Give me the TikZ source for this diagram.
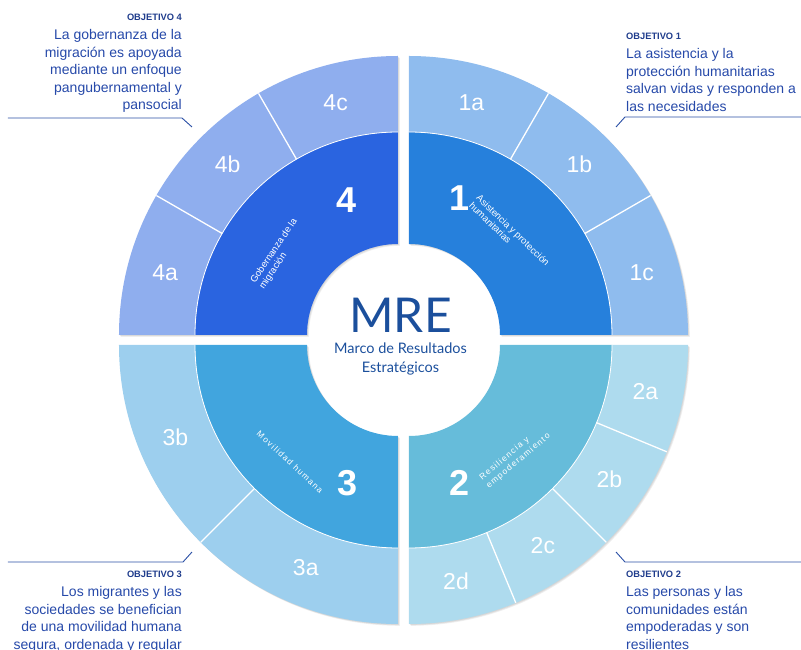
\documentclass[tikz,border=0pt]{standalone}
\usepackage{fontspec}
\setmainfont{Liberation Sans}
\newfontfamily\mrefont{Lato}
\usetikzlibrary{positioning,calc}
\definecolor{MidOne}{HTML}{2680DC}
\definecolor{OutOne}{HTML}{8FBCEE}
\definecolor{MidTwo}{HTML}{66BCDA}
\definecolor{OutTwo}{HTML}{AEDBEE}
\definecolor{MidThree}{HTML}{41A5DE}
\definecolor{OutThree}{HTML}{9DCFEE}
\definecolor{MidFour}{HTML}{2A64E0}
\definecolor{OutFour}{HTML}{8FAEEE}
\definecolor{ObjHead}{HTML}{1F3C8C}
\definecolor{ObjText}{HTML}{2649A9}
\definecolor{Callout}{HTML}{2A4FA5}
\definecolor{Mre}{HTML}{1B4F9C}

\newcommand{\rHole}{91pt}
\newcommand{\rMid}{203pt}
\newcommand{\rOut}{279pt}
\newcommand{\rLab}{241pt}
\newcommand{\ringpart}[5]{%
  \fill[#5] (#1:#3) arc[start angle=#1, end angle=#2, radius=#3]
    -- (#2:#4) arc[start angle=#2, end angle=#1, radius=#4] -- cycle;}

\begin{document}
\begin{tikzpicture}[
    x=1pt, y=1pt,
    seglabel/.style={text=white, font={\fontsize{23}{23}\selectfont}},
    bignum/.style={text=white, font={\fontsize{36}{36}\selectfont\bfseries}},
    ringtext/.style={text=white, align=left, inner sep=0pt, font={\fontsize{9.5}{10.5}\selectfont}},
    spaced/.style={ringtext, font={\fontsize{8.5}{10.5}\selectfont\addfontfeature{LetterSpace=15}}},
    objhead/.style={text=ObjHead, inner sep=0pt, font={\fontsize{9.3}{11}\selectfont\bfseries}},
    objtext/.style={text=ObjText, inner sep=0pt, font={\fontsize{14}{17.5}\selectfont}},
    callout/.style={draw=Callout, line width=0.9pt},
    divider/.style={draw=white, line width=1.3pt},
    sep/.style={draw=white, line width=0.8pt},
    shade/.style={fill=black, opacity=0.06}
  ]
  \useasboundingbox (-403.5,-310) rectangle (397.5,340);

  % soft shadow under the four quarters
  \foreach \qx/\qy/\qa in {5.5/5/0, -5.5/5/90, -5.5/-5/180, 5.5/-5/270} {
    \foreach \d in {1,2,3} {
      \begin{scope}[shift={(\qx+0.6*\d,\qy-0.6*\d)}]
        \ringpart{\qa}{\qa+90}{\rHole}{\rOut}{shade}
      \end{scope}
    }
  }

  % objetivo 1
  \begin{scope}[shift={(5.5,5)}]
    \ringpart{0}{90}{\rHole}{\rMid}{MidOne}
    \ringpart{0}{90}{\rMid}{\rOut}{OutOne}
    \draw[sep] (0:\rMid) arc[start angle=0, end angle=90, radius=\rMid];
    \draw[divider] (30:\rMid) -- (30:\rOut) (60:\rMid) -- (60:\rOut);
    \foreach \ang/\lab in {75/1a, 45/1b, 15/1c}
      \node[seglabel] (o\lab) at (\ang:\rLab) {\lab};
  \end{scope}

  % objetivo 4
  \begin{scope}[shift={(-5.5,5)}]
    \ringpart{90}{180}{\rHole}{\rMid}{MidFour}
    \ringpart{90}{180}{\rMid}{\rOut}{OutFour}
    \draw[sep] (90:\rMid) arc[start angle=90, end angle=180, radius=\rMid];
    \draw[divider] (120:\rMid) -- (120:\rOut) (150:\rMid) -- (150:\rOut);
    \foreach \ang/\lab in {165/4a, 135/4b, 105/4c}
      \node[seglabel] (o\lab) at (\ang:\rLab) {\lab};
  \end{scope}

  % objetivo 3
  \begin{scope}[shift={(-5.5,-5)}]
    \ringpart{180}{270}{\rHole}{\rMid}{MidThree}
    \ringpart{180}{270}{\rMid}{\rOut}{OutThree}
    \draw[sep] (180:\rMid) arc[start angle=180, end angle=270, radius=\rMid];
    \draw[divider] (225:\rMid) -- (225:\rOut);
    \foreach \ang/\lab in {247.5/3a, 202.5/3b}
      \node[seglabel] (o\lab) at (\ang:\rLab) {\lab};
  \end{scope}

  % objetivo 2
  \begin{scope}[shift={(5.5,-5)}]
    \ringpart{270}{360}{\rHole}{\rMid}{MidTwo}
    \ringpart{270}{360}{\rMid}{\rOut}{OutTwo}
    \draw[sep] (270:\rMid) arc[start angle=270, end angle=360, radius=\rMid];
    \draw[divider] (292.5:\rMid) -- (292.5:\rOut) (315:\rMid) -- (315:\rOut)
      (337.5:\rMid) -- (337.5:\rOut);
    \foreach \ang/\lab in {348.75/2a, 326.25/2b, 303.75/2c, 281.25/2d}
      \node[seglabel] (o\lab) at (\ang:\rLab) {\lab};
  \end{scope}

  \node[bignum] (n1) at (56.5,142) {1};
  \node[bignum] (n4) at (-56.5,140) {4};
  \node[bignum] (n3) at (-55.5,-143) {3};
  \node[bignum] (n2) at (56.5,-143) {2};

  \node[ringtext, rotate=-44] (t1) at (106,106) {Asistencia y protección\\humanitarias};
  \node[ringtext, rotate=56] (t4) at (-125,86) {Gobernanza de la\\migración};
  \node[spaced, rotate=-43] (t3) at (-113.5,-122) {Movilidad humana};
  \node[spaced, rotate=40] (t2) at (111.5,-117) {Resiliencia y\\empoderamiento};

  \node[text=Mre, font={\mrefont\fontsize{48}{48}\selectfont}] (mre) at (-3,24.5) {MRE};
  \node[text=Mre, align=center, font={\mrefont\fontsize{14.5}{19}\selectfont}] (marco) at (-3,-18.5)
  {Marco de Resultados\\Estratégicos};

  \node[objhead, anchor=east] (h4) at (-221.5,323) {OBJETIVO 4};
  \node[objtext, align=right, below=9pt of h4.south east, anchor=north east] (b4)
  {La gobernanza de la\\migración es apoyada\\mediante un enfoque\\pangubernamental y\\pansocial};

  \node[objhead, anchor=west] (h1) at (222.5,304) {OBJETIVO 1};
  \node[objtext, align=left, below=9pt of h1.south west, anchor=north west] (b1)
  {La asistencia y la\\protección humanitarias\\salvan vidas y responden a\\las necesidades};

  \node[objhead, anchor=east] (h3) at (-221.5,-234) {OBJETIVO 3};
  \node[objtext, align=right, below=9pt of h3.south east, anchor=north east] (b3)
  {Los migrantes y las\\sociedades se benefician\\de una movilidad humana\\segura, ordenada y regular};

  \node[objhead, anchor=west] (h2) at (222.5,-234) {OBJETIVO 2};
  \node[objtext, align=left, below=9pt of h2.south west, anchor=north west] (b2)
  {Las personas y las\\comunidades están\\empoderadas y son\\resilientes};

  \coordinate (p4) at (-211.5,213);
  \coordinate (k4) at (-221.5,222);
  \coordinate (e4) at (-395.5,222);
  \draw[callout] (p4) -- (k4) -- (e4);

  \coordinate (p1) at (212.5,213);
  \coordinate (k1) at (221.5,223);
  \coordinate (e1) at (397.5,223);
  \draw[callout] (p1) -- (k1) -- (e1);

  \coordinate (p3) at (-211.5,-212);
  \coordinate (k3) at (-220.5,-222);
  \coordinate (e3) at (-395.5,-222);
  \draw[callout] (p3) -- (k3) -- (e3);

  \coordinate (p2) at (212.5,-212);
  \coordinate (k2) at (221.5,-222);
  \coordinate (e2) at (397.5,-222);
  \draw[callout] (p2) -- (k2) -- (e2);
\end{tikzpicture}
\end{document}
